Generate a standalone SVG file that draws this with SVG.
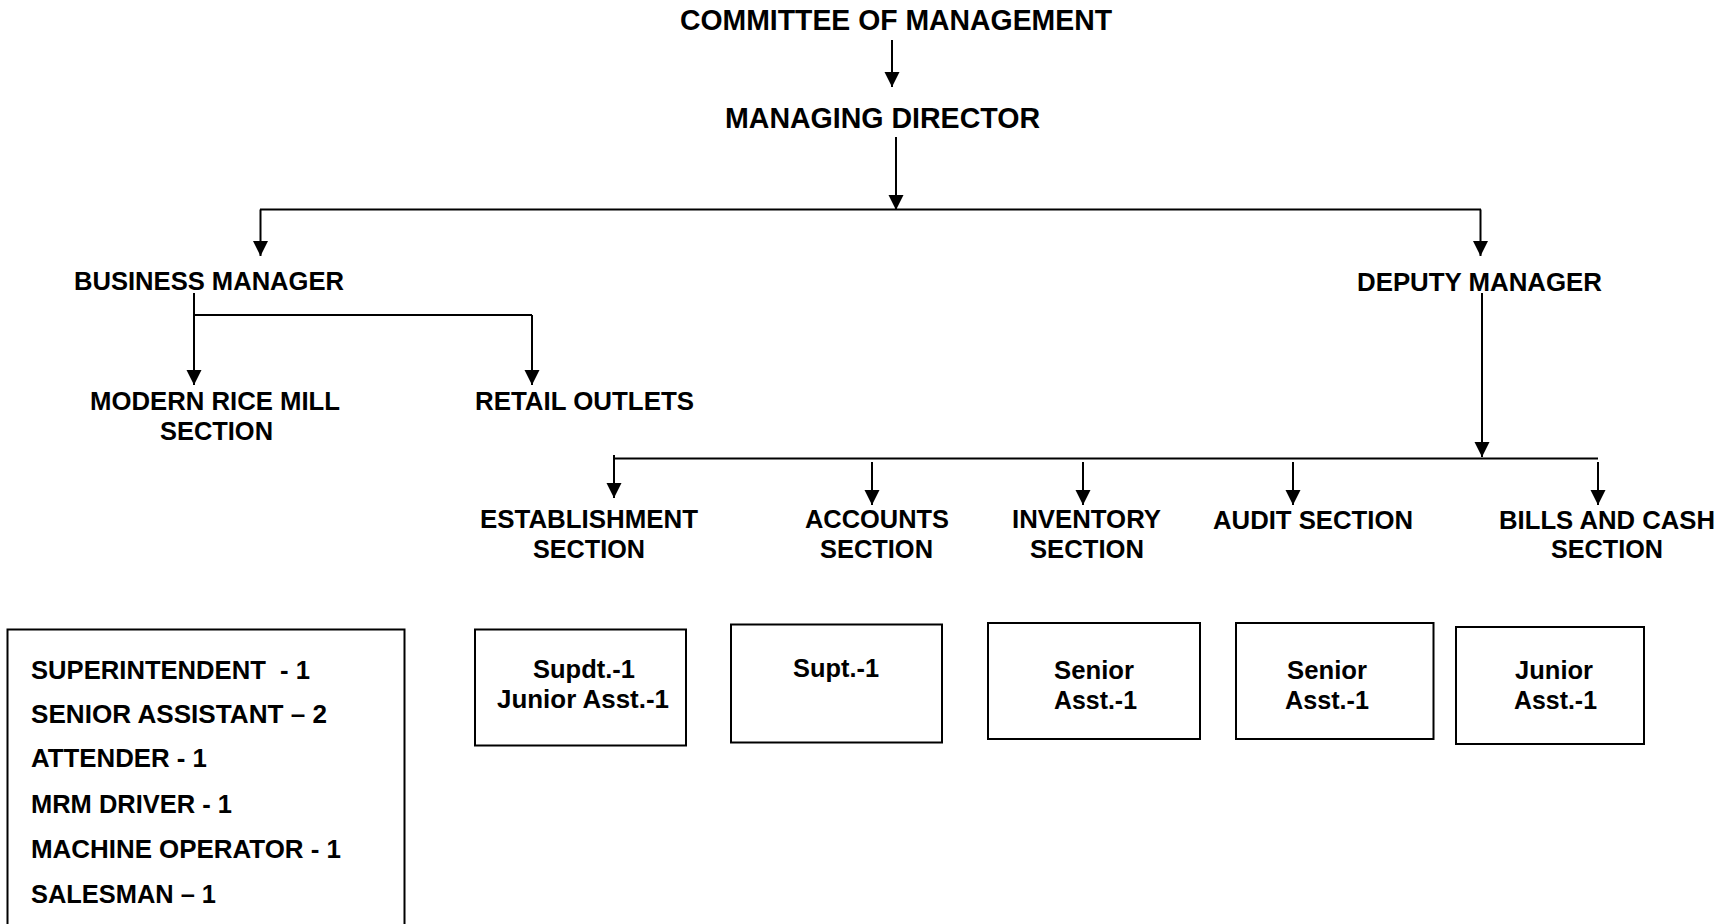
<svg xmlns="http://www.w3.org/2000/svg" width="1729" height="924" viewBox="0 0 1729 924">
<style>
  text { font-family: "Liberation Sans", Arial, sans-serif; font-weight: bold; fill: #000; }
  .t28 { font-size: 29px; }
  .t26 { font-size: 26px; }
  .t25 { font-size: 25px; }
  .ln { stroke: #000; stroke-width: 2; fill: none; }
  .arr { stroke: #000; stroke-width: 2; fill: none; marker-end: url(#ah); }
  .box { stroke: #000; stroke-width: 2; fill: #fff; }
</style>
<defs>
  <marker id="ah" markerUnits="userSpaceOnUse" markerWidth="16" markerHeight="16" refX="15" refY="7.5" orient="auto">
    <path d="M0,0 L15,7.5 L0,15 z" fill="#000"/>
  </marker>
</defs>
<rect width="1729" height="924" fill="#fff"/>

<g id="connectors">
  <line class="arr" x1="892" y1="40" x2="892" y2="87"/>
  <line class="arr" x1="896" y1="137" x2="896" y2="210"/>
  <line class="ln" x1="260" y1="209.5" x2="1481" y2="209.5"/>
  <line class="arr" x1="260.5" y1="209.5" x2="260.5" y2="256"/>
  <line class="arr" x1="1480.5" y1="209.5" x2="1480.5" y2="256"/>
  <line class="arr" x1="194" y1="293" x2="194" y2="385"/>
  <line class="ln" x1="194" y1="315" x2="532" y2="315"/>
  <line class="arr" x1="532" y1="315" x2="532" y2="385"/>
  <line class="arr" x1="1482" y1="293" x2="1482" y2="457"/>
  <line class="ln" x1="614" y1="458.5" x2="1598" y2="458.5"/>
  <line class="arr" x1="614" y1="455" x2="614" y2="498"/>
  <line class="arr" x1="872" y1="462" x2="872" y2="505"/>
  <line class="arr" x1="1083" y1="462" x2="1083" y2="505"/>
  <line class="arr" x1="1293" y1="462" x2="1293" y2="505"/>
  <line class="arr" x1="1598" y1="462" x2="1598" y2="505"/>
</g>

<g id="committee"><text class="t28" x="680" y="30" textLength="432" lengthAdjust="spacingAndGlyphs">COMMITTEE OF MANAGEMENT</text></g>
<g id="managing-director"><text class="t28" x="725" y="128" textLength="315" lengthAdjust="spacingAndGlyphs">MANAGING DIRECTOR</text></g>
<g id="business-manager"><text class="t25" x="74" y="290" textLength="270" lengthAdjust="spacingAndGlyphs">BUSINESS MANAGER</text></g>
<g id="deputy-manager"><text class="t26" x="1357" y="291" textLength="245" lengthAdjust="spacingAndGlyphs">DEPUTY MANAGER</text></g>
<g id="rice-mill">
  <text class="t25" x="90" y="410" textLength="250" lengthAdjust="spacingAndGlyphs">MODERN RICE MILL</text>
  <text class="t25" x="160" y="440" textLength="113" lengthAdjust="spacingAndGlyphs">SECTION</text>
</g>
<g id="retail"><text class="t25" x="475" y="410" textLength="219" lengthAdjust="spacingAndGlyphs">RETAIL OUTLETS</text></g>
<g id="establishment">
  <text class="t25" x="480" y="528" textLength="218" lengthAdjust="spacingAndGlyphs">ESTABLISHMENT</text>
  <text class="t25" x="533" y="558" textLength="112" lengthAdjust="spacingAndGlyphs">SECTION</text>
</g>
<g id="accounts">
  <text class="t25" x="805" y="528" textLength="144" lengthAdjust="spacingAndGlyphs">ACCOUNTS</text>
  <text class="t25" x="820" y="558" textLength="113" lengthAdjust="spacingAndGlyphs">SECTION</text>
</g>
<g id="inventory">
  <text class="t25" x="1012" y="528" textLength="149" lengthAdjust="spacingAndGlyphs">INVENTORY</text>
  <text class="t25" x="1030" y="558" textLength="114" lengthAdjust="spacingAndGlyphs">SECTION</text>
</g>
<g id="audit"><text class="t25" x="1213" y="529" textLength="200" lengthAdjust="spacingAndGlyphs">AUDIT SECTION</text></g>
<g id="bills">
  <text class="t25" x="1499" y="529" textLength="216" lengthAdjust="spacingAndGlyphs">BILLS AND CASH</text>
  <text class="t25" x="1551" y="558" textLength="112" lengthAdjust="spacingAndGlyphs">SECTION</text>
</g>

<g id="staff-box">
  <rect class="box" x="7.5" y="629.5" width="397" height="310"/>
  <text class="t26" x="31" y="679" textLength="279" lengthAdjust="spacingAndGlyphs" xml:space="preserve">SUPERINTENDENT  - 1</text>
  <text class="t26" x="31" y="723" textLength="296" lengthAdjust="spacingAndGlyphs">SENIOR ASSISTANT – 2</text>
  <text class="t26" x="31" y="767" textLength="176" lengthAdjust="spacingAndGlyphs">ATTENDER - 1</text>
  <text class="t26" x="31" y="813" textLength="201" lengthAdjust="spacingAndGlyphs">MRM DRIVER - 1</text>
  <text class="t26" x="31" y="858" textLength="310" lengthAdjust="spacingAndGlyphs">MACHINE OPERATOR - 1</text>
  <text class="t26" x="31" y="903" textLength="185" lengthAdjust="spacingAndGlyphs">SALESMAN – 1</text>
</g>

<g id="establishment-staff">
  <rect class="box" x="475" y="629.5" width="211" height="116"/>
  <text class="t25" x="533" y="678" textLength="102" lengthAdjust="spacingAndGlyphs">Supdt.-1</text>
  <text class="t25" x="497" y="708" textLength="172" lengthAdjust="spacingAndGlyphs">Junior Asst.-1</text>
</g>
<g id="accounts-staff">
  <rect class="box" x="731" y="624.5" width="211" height="118"/>
  <text class="t25" x="793" y="677" textLength="86" lengthAdjust="spacingAndGlyphs">Supt.-1</text>
</g>
<g id="inventory-staff">
  <rect class="box" x="988" y="623" width="212" height="116"/>
  <text class="t26" x="1054" y="679" textLength="80" lengthAdjust="spacingAndGlyphs">Senior</text>
  <text class="t26" x="1054" y="709" textLength="83" lengthAdjust="spacingAndGlyphs">Asst.-1</text>
</g>
<g id="audit-staff">
  <rect class="box" x="1236" y="623" width="197.5" height="116"/>
  <text class="t26" x="1287" y="679" textLength="80" lengthAdjust="spacingAndGlyphs">Senior</text>
  <text class="t26" x="1285" y="709" textLength="84" lengthAdjust="spacingAndGlyphs">Asst.-1</text>
</g>
<g id="bills-staff">
  <rect class="box" x="1456" y="627" width="188" height="117"/>
  <text class="t26" x="1515" y="679" textLength="78" lengthAdjust="spacingAndGlyphs">Junior</text>
  <text class="t26" x="1514" y="709" textLength="83" lengthAdjust="spacingAndGlyphs">Asst.-1</text>
</g>
</svg>
